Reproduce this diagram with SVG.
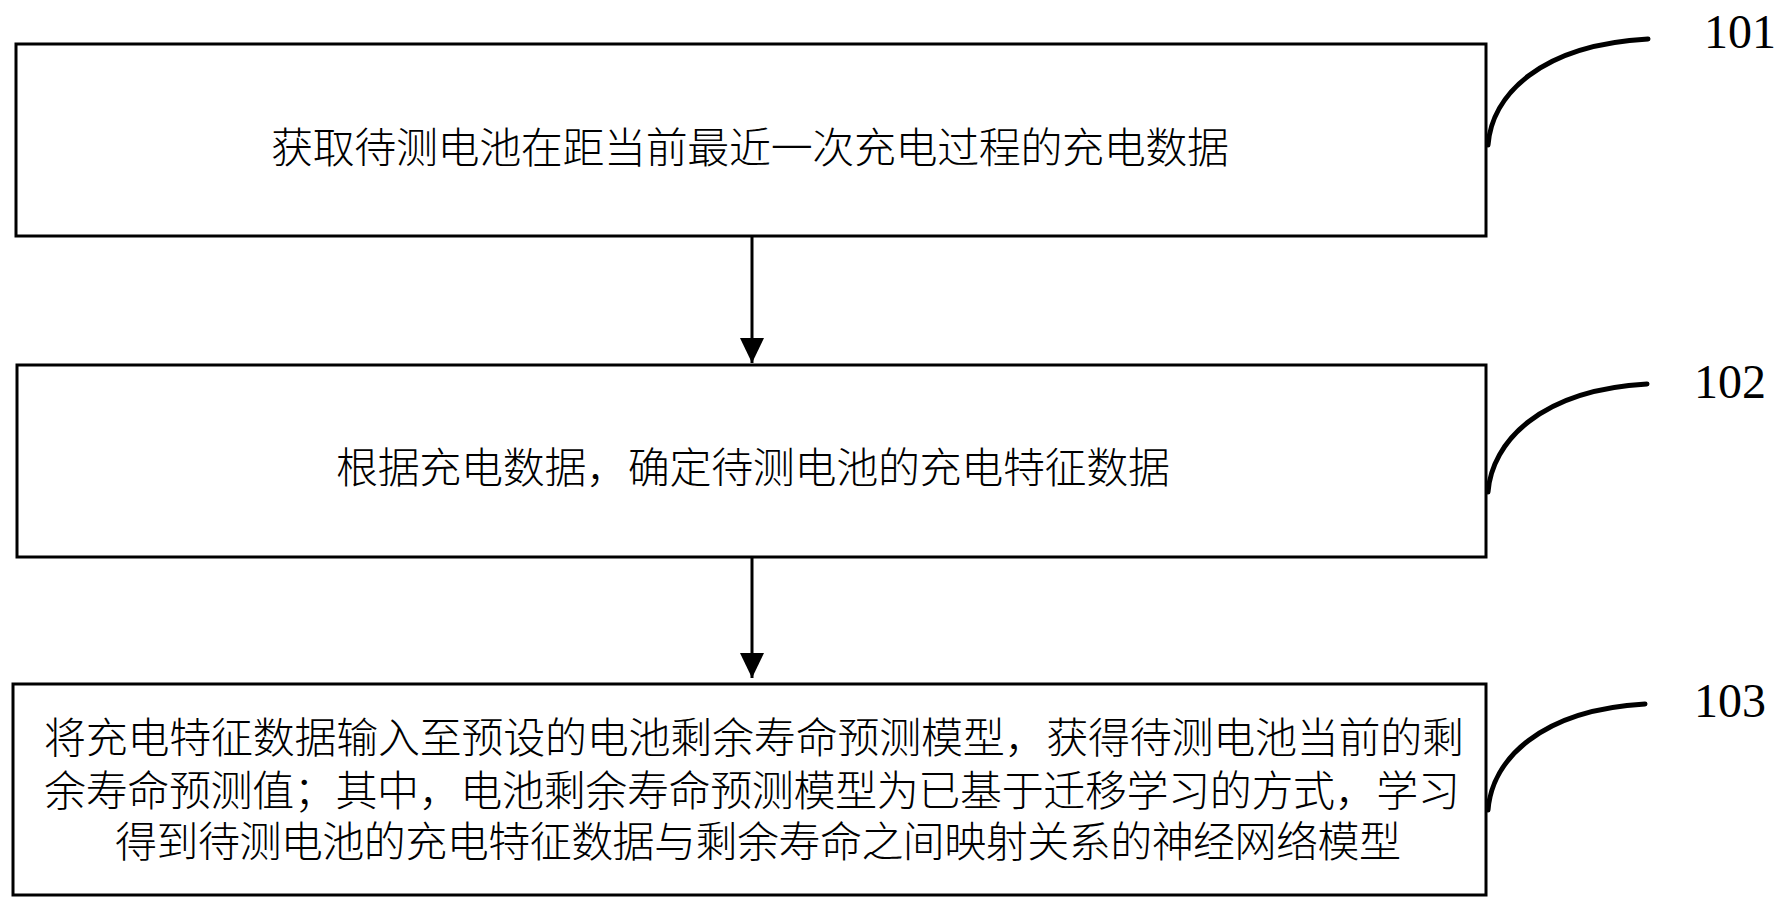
<svg xmlns="http://www.w3.org/2000/svg" width="1784" height="912" viewBox="0 0 1784 912">
<style>
.box{fill:#fff;stroke:#000;stroke-width:3}
.t{font-family:"Liberation Serif","Noto Sans CJK SC",serif;font-size:42px;fill:#000;font-weight:300}
.num{font-family:"Liberation Serif",serif;font-size:48px;fill:#000}
.lead{fill:none;stroke:#000;stroke-width:5;stroke-linecap:round}
.conn{stroke:#000;stroke-width:3}
</style>
<defs>
<marker id="ah" viewBox="0 0 25 24" refX="25" refY="12" markerWidth="25" markerHeight="24" markerUnits="userSpaceOnUse" orient="auto">
<path d="M0,0 L25,12 L0,24 Z" fill="#000"/>
</marker>
</defs>
<rect width="1784" height="912" fill="#fff"/>
<g id="node101">
<rect class="box" x="16" y="44" width="1470" height="192"/>
<text class="t" x="271" y="163" textLength="958" lengthAdjust="spacing">获取待测电池在距当前最近一次充电过程的充电数据</text>
</g>
<g id="node102">
<rect class="box" x="17" y="365" width="1469" height="192"/>
<text class="t" x="336" y="483" textLength="834" lengthAdjust="spacing">根据充电数据，确定待测电池的充电特征数据</text>
</g>
<g id="node103">
<rect class="box" x="13" y="684" width="1473" height="211"/>
<text class="t" x="44" y="753" textLength="1420" lengthAdjust="spacing">将充电特征数据输入至预设的电池剩余寿命预测模型，获得待测电池当前的剩</text>
<text class="t" x="44" y="806" textLength="1416" lengthAdjust="spacing">余寿命预测值；其中，电池剩余寿命预测模型为已基于迁移学习的方式，学习</text>
<text class="t" x="115" y="857" textLength="1286" lengthAdjust="spacing">得到待测电池的充电特征数据与剩余寿命之间映射关系的神经网络模型</text>
</g>
<g id="labels">
<path class="lead" d="M1488,145 C1492,95 1540,45 1648,39"/>
<text class="num" x="1704" y="48">101</text>
<path class="lead" d="M1488,492 C1492,442 1540,390 1647,384"/>
<text class="num" x="1694" y="398">102</text>
<path class="lead" d="M1488,810 C1492,760 1540,710 1645,704"/>
<text class="num" x="1694" y="717">103</text>
</g>
<g id="connectors">
<line class="conn" x1="752" y1="236" x2="752" y2="363" marker-end="url(#ah)"/>
<line class="conn" x1="752" y1="557" x2="752" y2="678" marker-end="url(#ah)"/>
</g>
</svg>
